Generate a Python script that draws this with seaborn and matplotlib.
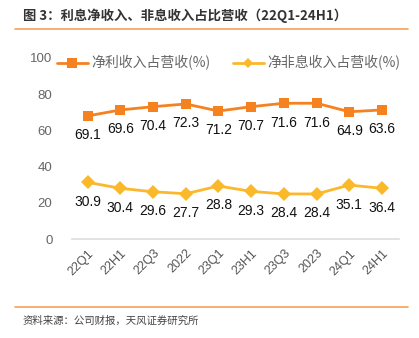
import matplotlib
matplotlib.use("Agg")
import matplotlib.pyplot as plt
import seaborn as sns
import pandas as pd
from matplotlib.lines import Line2D

categories = ["22Q1", "22H1", "22Q3", "2022", "23Q1", "23H1", "23Q3", "2023", "24Q1", "24H1"]
net_interest = [68.0, 71.3, 73.1, 74.6, 70.7, 73.1, 75.0, 75.0, 70.3, 71.3]
non_interest = [31.3, 28.0, 26.1, 25.0, 29.3, 26.3, 24.9, 24.9, 29.8, 28.0]
net_interest_labels = ["69.1", "69.6", "70.4", "72.3", "71.2", "70.7", "71.6", "71.6", "64.9", "63.6"]
non_interest_labels = ["30.9", "30.4", "29.6", "27.7", "28.8", "29.3", "28.4", "28.4", "35.1", "36.4"]
series_names = ["净利收入占营收(%)", "净非息收入占营收(%)"]
yticks = [0, 20, 40, 60, 80, 100]

sns.set_theme(style="white")
CJK = ["Noto Sans CJK SC", "DejaVu Sans"]
NUM = ["Liberation Sans", "DejaVu Sans"]
plt.rcParams["font.family"] = CJK

ORANGE = "#F5821F"
YELLOW = "#FBB82B"

fig = plt.figure(figsize=(4.19, 3.38), dpi=100)
ax = fig.add_axes([72 / 419, 1 - 239 / 338, 327 / 419, 181 / 338])

x = list(range(len(categories)))
df = pd.DataFrame({
    "x": x * 2,
    "value": net_interest + non_interest,
    "series": [series_names[0]] * len(x) + [series_names[1]] * len(x),
})
sns.lineplot(data=df, x="x", y="value", hue="series", style="series",
             palette={series_names[0]: ORANGE, series_names[1]: YELLOW},
             markers={series_names[0]: "s", series_names[1]: "D"},
             dashes=False, markersize=7, linewidth=2, markeredgewidth=0,
             legend=False, ax=ax)

for vals, labs in ((net_interest, net_interest_labels), (non_interest, non_interest_labels)):
    for xi, v, t in zip(x, vals, labs):
        ax.annotate(t, (xi, v), xytext=(0, -14), textcoords="offset points",
                    ha="center", va="center", fontsize=10, color="#111111",
                    family=NUM)

ax.set_xlim(-0.48, 9.52)
ax.set_ylim(0, 100)
ax.set_yticks(yticks)
ax.set_yticklabels([str(t) for t in yticks], family=NUM, fontsize=9.5, color="#666666")
ax.set_xticks(x)
ax.set_xticklabels(categories, rotation=45, ha="right", rotation_mode="anchor",
                   family=NUM, fontsize=9, color="#555555")
ax.tick_params(axis="both", length=0)
ax.tick_params(axis="y", pad=14)
ax.tick_params(axis="x", pad=6)
ax.set_xlabel("")
ax.set_ylabel("")
for s in ["top", "right", "left"]:
    ax.spines[s].set_visible(False)
ax.spines["bottom"].set_color("#DDDDDD")
ax.spines["bottom"].set_linewidth(1.2)
ax.patch.set_alpha(0)

handles = [
    Line2D([], [], color=ORANGE, marker="s", markersize=7, linewidth=2, markeredgewidth=0),
    Line2D([], [], color=YELLOW, marker="D", markersize=5.5, linewidth=2, markeredgewidth=0),
]
leg = fig.legend(handles, series_names, loc="center left", bbox_to_anchor=(57 / 419, 1 - 63 / 338),
                 ncol=2, frameon=False, fontsize=10, handlelength=2.2, handletextpad=0.3,
                 columnspacing=1.6, borderpad=0, borderaxespad=0)
for t in leg.get_texts():
    t.set_color("#666666")

fig.text(23 / 419, 1 - 16 / 338, "图 3：利息净收入、非息收入占比营收（22Q1-24H1）",
         fontsize=9.6, fontweight="bold", color="#333333", va="center", ha="left")
fig.add_artist(Line2D([15 / 419, 408 / 419], [1 - 29 / 338] * 2, color="#F4A25A", linewidth=1.2))
fig.add_artist(Line2D([15 / 419, 408 / 419], [1 - 307 / 338] * 2, color="#F4A25A", linewidth=1.2))
fig.text(23 / 419, 1 - 321 / 338, "资料来源：公司财报，天风证券研究所",
         fontsize=7.5, color="#444444", va="center", ha="left")

fig.savefig("out.png", dpi=100)
